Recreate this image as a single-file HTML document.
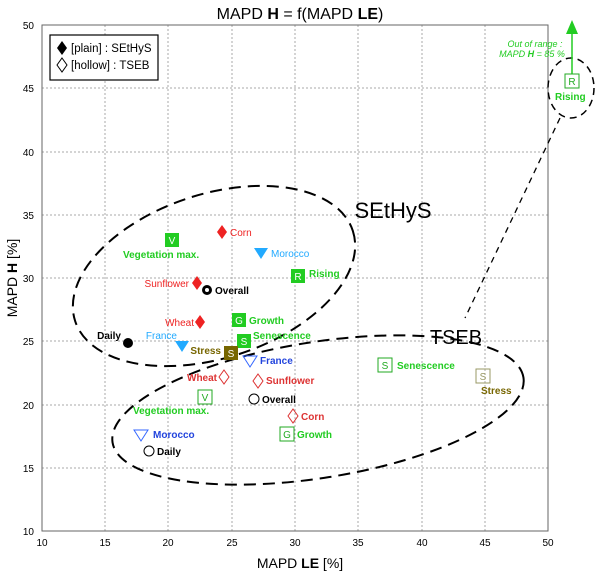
<!DOCTYPE html>
<html><head><meta charset="utf-8"><style>
html,body{margin:0;padding:0;background:#fff}
svg{display:block;font-family:"Liberation Sans",Arial,sans-serif}
</style></head><body>
<svg width="600" height="575" viewBox="0 0 600 575" xmlns="http://www.w3.org/2000/svg">
<rect width="600" height="575" fill="#fff"/>
<g stroke="#aaa" stroke-width="1" stroke-dasharray="2,2">
<line x1="105" y1="25" x2="105" y2="531"/><line x1="168" y1="25" x2="168" y2="531"/>
<line x1="232" y1="25" x2="232" y2="531"/><line x1="295" y1="25" x2="295" y2="531"/>
<line x1="358" y1="25" x2="358" y2="531"/><line x1="422" y1="25" x2="422" y2="531"/>
<line x1="485" y1="25" x2="485" y2="531"/>
<line x1="42" y1="88" x2="548" y2="88"/><line x1="42" y1="152" x2="548" y2="152"/>
<line x1="42" y1="215" x2="548" y2="215"/><line x1="42" y1="278" x2="548" y2="278"/>
<line x1="42" y1="341" x2="548" y2="341"/><line x1="42" y1="405" x2="548" y2="405"/>
<line x1="42" y1="468" x2="548" y2="468"/>
</g>
<rect x="42" y="25" width="506" height="506" fill="none" stroke="#666" stroke-width="1"/>
<g font-size="10" fill="#000" text-anchor="middle">
<text x="42" y="546">10</text><text x="105" y="546">15</text><text x="168" y="546">20</text>
<text x="232" y="546">25</text><text x="295" y="546">30</text><text x="358" y="546">35</text>
<text x="422" y="546">40</text><text x="485" y="546">45</text><text x="548" y="546">50</text>
</g>
<g font-size="10" fill="#000" text-anchor="end">
<text x="34" y="29">50</text><text x="34" y="92">45</text><text x="34" y="156">40</text>
<text x="34" y="219">35</text><text x="34" y="282">30</text><text x="34" y="345">25</text>
<text x="34" y="409">20</text><text x="34" y="472">15</text><text x="34" y="535">10</text>
</g>
<text x="300" y="19" font-size="16" text-anchor="middle">MAPD <tspan font-weight="bold">H</tspan> = f(MAPD <tspan font-weight="bold">LE</tspan>)</text>
<text x="300" y="568" font-size="14" text-anchor="middle">MAPD <tspan font-weight="bold">LE</tspan> [%]</text>
<text transform="translate(17,278) rotate(-90)" font-size="14" text-anchor="middle">MAPD <tspan font-weight="bold">H</tspan> [%]</text>
<rect x="50" y="35" width="108" height="45" fill="#fff" stroke="#000" stroke-width="1.2"/>
<path d="M62,41 L67,48 L62,55 L57,48Z" fill="#000"/>
<text x="71" y="52" font-size="11.5">[plain] : SEtHyS</text>
<path d="M62,58 L67,65 L62,72 L57,65Z" fill="none" stroke="#000"/>
<text x="71" y="69" font-size="11.5">[hollow] : TSEB</text>
<g fill="none" stroke="#000" stroke-width="2" stroke-dasharray="12,7">
<ellipse cx="214" cy="276" rx="146" ry="82" transform="rotate(-18 214 276)"/>
<ellipse cx="318" cy="410" rx="208" ry="68" transform="rotate(-9 318 410)"/>
</g>
<ellipse cx="571" cy="88" rx="23" ry="30" fill="none" stroke="#000" stroke-width="1.5" stroke-dasharray="7,5"/>
<line x1="560" y1="118" x2="465" y2="318" stroke="#000" stroke-width="1.3" stroke-dasharray="6,5"/>
<text x="393" y="218" font-size="22" text-anchor="middle">SEtHyS</text>
<text x="456" y="344" font-size="20" text-anchor="middle">TSEB</text>
<line x1="572" y1="74" x2="572" y2="32" stroke="#2c2" stroke-width="1.5"/>
<path d="M572,20 L566,34 L578,34Z" fill="#2c2"/>
<text x="535" y="47" font-size="9" fill="#2c2" font-style="italic" text-anchor="middle">Out of range :</text>
<text x="532" y="57" font-size="9" fill="#2c2" font-style="italic" text-anchor="middle">MAPD <tspan font-weight="bold">H</tspan> = 85 %</text>
<g font-size="10" font-weight="bold">
<rect x="165" y="233" width="14" height="14" fill="#2c2"/><text x="172" y="244" fill="#fff" text-anchor="middle" font-weight="normal">V</text>
<text x="123" y="258" fill="#2c2">Vegetation max.</text>
<path d="M222,225 L227,232 L222,239 L217,232Z" fill="#e22"/><text x="230" y="236" fill="#e22" font-weight="normal">Corn</text>
<path d="M254,248 L268,248 L261,259Z" fill="#2af"/><text x="271" y="257" fill="#2af" font-weight="normal">Morocco</text>
<rect x="291" y="269" width="14" height="14" fill="#2c2"/><text x="298" y="280" fill="#fff" text-anchor="middle" font-weight="normal">R</text>
<text x="309" y="277" fill="#2c2">Rising</text>
<path d="M197,276 L202,283 L197,290 L192,283Z" fill="#e22"/><text x="189" y="287" fill="#e22" text-anchor="end" font-weight="normal">Sunflower</text>
<circle cx="207" cy="290" r="5" fill="#000"/><circle cx="207" cy="290" r="2" fill="#fff"/><text x="215" y="294" fill="#000">Overall</text>
<path d="M200,315 L205,322 L200,329 L195,322Z" fill="#e22"/><text x="194" y="326" fill="#e22" text-anchor="end" font-weight="normal">Wheat</text>
<rect x="232" y="313" width="14" height="14" fill="#2c2"/><text x="239" y="324" fill="#fff" text-anchor="middle" font-weight="normal">G</text>
<text x="249" y="324" fill="#2c2">Growth</text>
<circle cx="128" cy="343" r="5" fill="#000"/><text x="121" y="339" fill="#000" text-anchor="end">Daily</text>
<path d="M175,341 L189,341 L182,352Z" fill="#2af"/><text x="177" y="339" fill="#2af" text-anchor="end" font-weight="normal">France</text>
<rect x="237" y="334" width="14" height="14" fill="#2c2"/><text x="244" y="345" fill="#fff" text-anchor="middle" font-weight="normal">S</text>
<text x="253" y="339" fill="#2c2">Senescence</text>
<rect x="224" y="346" width="14" height="14" fill="#776600"/><text x="231" y="357" fill="#fff" text-anchor="middle" font-weight="normal">S</text>
<text x="221" y="354" fill="#776600" text-anchor="end">Stress</text>
<path d="M243,356 L257,356 L250,367Z" fill="none" stroke="#36f"/><text x="260" y="364" fill="#24d">France</text>
<path d="M224,370 L229,377 L224,384 L219,377Z" fill="none" stroke="#d33"/><text x="217" y="381" fill="#d33" text-anchor="end">Wheat</text>
<path d="M258,374 L263,381 L258,388 L253,381Z" fill="none" stroke="#d33"/><text x="266" y="384" fill="#d33">Sunflower</text>
<rect x="198" y="390" width="14" height="14" fill="none" stroke="#2a2"/><text x="205" y="401" fill="#2a2" text-anchor="middle" font-weight="normal">V</text>
<text x="133" y="414" fill="#2c2">Vegetation max.</text>
<circle cx="254" cy="399" r="5" fill="none" stroke="#000"/><text x="262" y="403" fill="#000">Overall</text>
<path d="M293,409 L298,416 L293,423 L288,416Z" fill="none" stroke="#d33"/><text x="301" y="420" fill="#d33">Corn</text>
<rect x="280" y="427" width="14" height="14" fill="none" stroke="#2a2"/><text x="287" y="438" fill="#2a2" text-anchor="middle" font-weight="normal">G</text>
<text x="297" y="438" fill="#2c2">Growth</text>
<path d="M134,430 L148,430 L141,441Z" fill="none" stroke="#36f"/><text x="153" y="438" fill="#24d">Morocco</text>
<circle cx="149" cy="451" r="5" fill="none" stroke="#000"/><text x="157" y="455" fill="#000">Daily</text>
<rect x="378" y="358" width="14" height="14" fill="none" stroke="#2a2"/><text x="385" y="369" fill="#2a2" text-anchor="middle" font-weight="normal">S</text>
<text x="397" y="369" fill="#2c2">Senescence</text>
<rect x="476" y="369" width="14" height="14" fill="none" stroke="#996"/><text x="483" y="380" fill="#996" text-anchor="middle" font-weight="normal">S</text>
<text x="481" y="394" fill="#776600">Stress</text>
<rect x="565" y="74" width="14" height="14" fill="none" stroke="#2a2"/><text x="572" y="85" fill="#2a2" text-anchor="middle" font-weight="normal">R</text>
<text x="555" y="100" fill="#2c2">Rising</text>
</g>
</svg>
</body></html>
